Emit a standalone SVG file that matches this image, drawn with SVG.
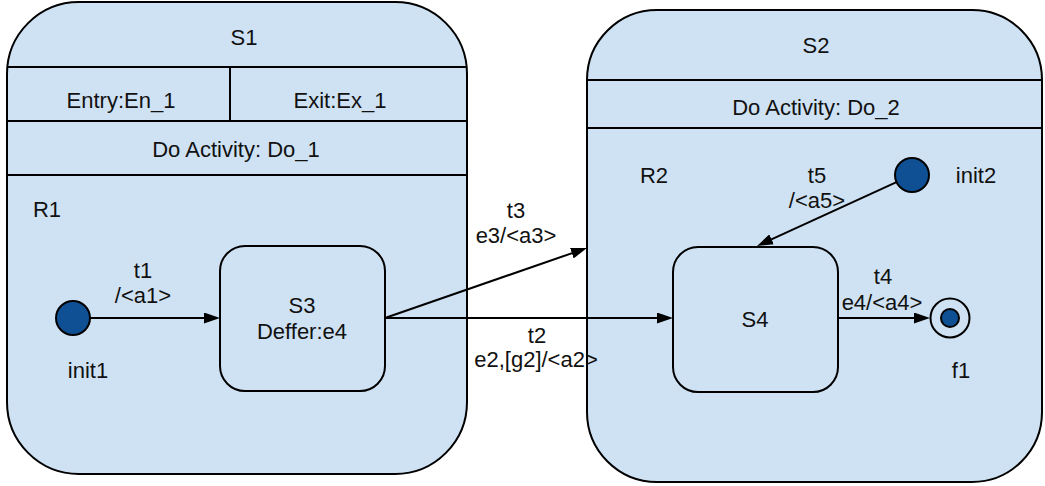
<svg xmlns="http://www.w3.org/2000/svg" width="1045" height="486" viewBox="0 0 1045 486">
  <style>
    .state { fill: #cfe2f3; stroke: #000; stroke-width: 2; }
    .sep { stroke: #000; stroke-width: 2; fill: none; }
    .pseudo { fill: #0e5093; stroke: #000; stroke-width: 2; }
    .ring { fill: none; stroke: #000; stroke-width: 2; }
    .edge { stroke: #000; stroke-width: 2; fill: none; marker-end: url(#arrow); }
    text { font-family: "Liberation Sans", Arial, Helvetica, sans-serif; font-size: 22px; fill: #111; text-anchor: middle; }
  </style>
  <defs>
    <marker id="arrow" markerUnits="userSpaceOnUse" markerWidth="16" markerHeight="11" refX="8" refY="5.5" orient="auto">
      <path d="M0,0 L16,5.5 L0,11 Z" fill="#000"/>
    </marker>
  </defs>

  <!-- Composite state S1 with entry/exit/do compartments and region R1 -->
  <g id="S1">
    <rect class="state" x="7" y="2" width="460" height="472" rx="72" ry="72"/>
    <line class="sep" x1="7" y1="67" x2="467" y2="67"/>
    <line class="sep" x1="230" y1="67" x2="230" y2="121"/>
    <line class="sep" x1="7" y1="121" x2="467" y2="121"/>
    <line class="sep" x1="7" y1="175" x2="467" y2="175"/>
    <text x="244" y="45">S1</text>
    <text x="121" y="108">Entry:En_1</text>
    <text x="340" y="108">Exit:Ex_1</text>
    <text x="236" y="157">Do Activity: Do_1</text>
    <text x="47" y="217">R1</text>
  </g>

  <!-- Composite state S2 with do compartment and region R2 -->
  <g id="S2">
    <rect class="state" x="587" y="10" width="455" height="472" rx="70" ry="70"/>
    <line class="sep" x1="587" y1="80" x2="1042" y2="80"/>
    <line class="sep" x1="587" y1="128" x2="1042" y2="128"/>
    <text x="816" y="53">S2</text>
    <text x="816" y="115">Do Activity: Do_2</text>
    <text x="654" y="183">R2</text>
  </g>

  <g id="init1">
    <circle class="pseudo" cx="73" cy="318" r="17"/>
    <text x="88" y="378">init1</text>
  </g>

  <g id="S3">
    <rect class="state" x="220" y="246" width="165" height="145" rx="25" ry="25"/>
    <text x="302" y="313">S3</text>
    <text x="302" y="339">Deffer:e4</text>
  </g>

  <g id="init2">
    <circle class="pseudo" cx="912" cy="175" r="17"/>
    <text x="976" y="183">init2</text>
  </g>

  <g id="S4">
    <rect class="state" x="673" y="247" width="165" height="145" rx="25" ry="25"/>
    <text x="755" y="327">S4</text>
  </g>

  <g id="f1">
    <circle class="ring" cx="950" cy="318" r="19.5"/>
    <circle class="pseudo" cx="950" cy="318" r="9"/>
    <text x="961" y="378">f1</text>
  </g>

  <!-- Transitions -->
  <g id="connectors">
    <path class="edge" d="M90,318 L212,318"/>
    <path class="edge" d="M385,318 L665,318"/>
    <path class="edge" d="M385,318 L579.4,250.6"/>
    <path class="edge" d="M896.5,182.1 L764.3,242.7"/>
    <path class="edge" d="M838,318 L922,318"/>

    <text x="143" y="278">t1</text>
    <text x="143" y="303">/&lt;a1&gt;</text>
    <text x="516" y="218">t3</text>
    <text x="516" y="243">e3/&lt;a3&gt;</text>
    <text x="537" y="343">t2</text>
    <text x="536" y="367">e2,[g2]/&lt;a2&gt;</text>
    <text x="817" y="183">t5</text>
    <text x="817" y="208">/&lt;a5&gt;</text>
    <text x="883" y="284">t4</text>
    <text x="882" y="310">e4/&lt;a4&gt;</text>
  </g>
</svg>
